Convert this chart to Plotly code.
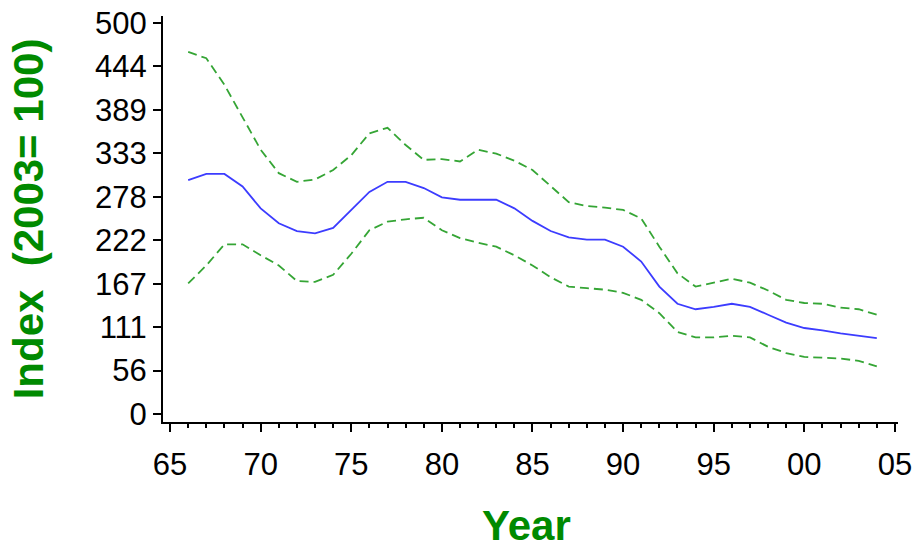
import plotly.graph_objects as go

# ----------------------------- data ------------------------------------------
years = list(range(1966, 2005))

index_mid = [299, 307, 307, 291, 263, 244, 234, 231, 238, 261,
             284, 297, 297, 289, 277, 274, 274, 274, 263, 247,
             234, 226, 223, 223, 214, 195, 163, 141, 134, 137,
             141, 137, 127, 117, 110, 107, 103, 100, 97]

index_upper = [463, 455, 421, 380, 338, 308, 297, 300, 312, 331,
               359, 366, 344, 325, 326, 323, 338, 333, 324, 312,
               291, 271, 266, 264, 261, 250, 214, 180, 163, 168,
               173, 168, 158, 146, 142, 141, 136, 134, 127]

index_lower = [167, 190, 217, 217, 203, 190, 170, 169, 178, 205,
               235, 246, 249, 251, 235, 225, 219, 214, 203, 190,
               175, 163, 161, 159, 155, 146, 129, 105, 98, 98,
               100, 98, 86, 78, 73, 72, 71, 68, 61]

x_tickvals = [1965, 1970, 1975, 1980, 1985, 1990, 1995, 2000, 2005]
x_ticktext = ['65', '70', '75', '80', '85', '90', '95', '00', '05']
y_tickvals = [500 * i / 9 for i in range(10)]
y_ticktext = ['0', '56', '111', '167', '222', '278', '333', '389', '444', '500']

# ----------------------------- styles ----------------------------------------
green_title = '#008a00'
green_line = '#35a535'
blue_line = '#3c3cff'
tick_font = dict(family='Liberation Sans, Arial, sans-serif', size=31, color='black')
title_font = dict(family='Liberation Sans, Arial, sans-serif', size=42, color=green_title)

fig = go.Figure()

fig.add_trace(go.Scatter(
    x=years, y=index_upper, mode='lines',
    line=dict(color=green_line, width=1.8, dash='9px,5px'),
    hoverinfo='skip'
))
fig.add_trace(go.Scatter(
    x=years, y=index_lower, mode='lines',
    line=dict(color=green_line, width=1.8, dash='9px,5px'),
    hoverinfo='skip'
))
fig.add_trace(go.Scatter(
    x=years, y=index_mid, mode='lines',
    line=dict(color=blue_line, width=1.8)
))

fig.update_layout(
    width=914, height=543,
    showlegend=False,
    plot_bgcolor='white',
    paper_bgcolor='white',
    margin=dict(l=163, r=16, t=16, b=121),
)

# x title as an annotation, the axis title gets pinned inside the margin
fig.add_annotation(
    text='<b>Year</b>', font=title_font, showarrow=False,
    xref='paper', yref='paper', x=0.495, y=-0.256,
    xanchor='center', yanchor='middle'
)

fig.update_xaxes(
    range=[1964.61, 2005.17],
    tickvals=x_tickvals, ticktext=x_ticktext,
    ticks='outside', ticklen=8, tickwidth=1.5, tickcolor='black',
    minor=dict(dtick=1, tick0=1965, ticks='outside', ticklen=4,
               tickwidth=1.5, tickcolor='black'),
    showline=True, linecolor='black', linewidth=2,
    showgrid=False, zeroline=False,
    tickfont=tick_font,
    ticklabelstandoff=6,
    ticklabeloverflow='allow',
    automargin=False,
)

fig.update_yaxes(
    range=[-10.2, 509],
    tickvals=y_tickvals, ticktext=y_ticktext,
    ticks='outside', ticklen=8, tickwidth=1.5, tickcolor='black',
    showline=True, linecolor='black', linewidth=2,
    showgrid=False, zeroline=False,
    tickfont=tick_font,
    ticklabeloverflow='allow',
    automargin=False,
    title=dict(text='<b>Index  (2003= 100)</b>', font=title_font, standoff=38),
)

# drop the page's default body margin so the figure fills the window
fig.write_html('out.html', config={'displayModeBar': False},
               post_script="document.body.style.margin = '0';")
